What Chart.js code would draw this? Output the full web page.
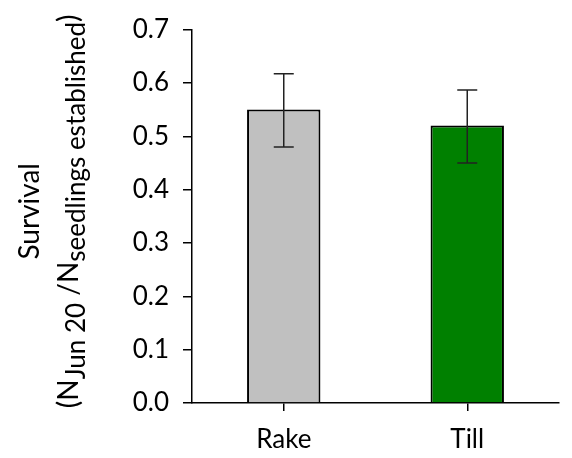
<!DOCTYPE html>
<html>
<head>
<meta charset="utf-8">
<script src="https://cdn.jsdelivr.net/npm/chart.js@4"></script>
<style>
  html, body { margin: 0; padding: 0; background: #fff; }
  #wrap { width: 572px; height: 458px; }
</style>
</head>
<body>
<div id="wrap"><canvas id="c" width="572" height="458"></canvas></div>
<script>
// data
const categories = ['Rake', 'Till'];
const survival = [0.55, 0.52];
const errUpper = [0.617, 0.587];
const errLower = [0.48, 0.45];
const barColors = ['#c0c0c0', '#008000'];
const yTicks = [0, 0.1, 0.2, 0.3, 0.4, 0.5, 0.6, 0.7];

const FONT = 'Lato, "Open Sans", sans-serif';

// error bars drawn via the scales
const errorBars = {
    id: 'errorBars',
    afterDatasetsDraw(chart) {
        const ctx = chart.ctx;
        const x = chart.scales.x, y = chart.scales.y;
        ctx.save();
        ctx.strokeStyle = '#222';
        ctx.lineWidth = 1.5;
        categories.forEach((c, i) => {
            const px = x.getPixelForValue(i);
            const top = y.getPixelForValue(errUpper[i]);
            const bot = y.getPixelForValue(errLower[i]);
            ctx.beginPath();
            ctx.moveTo(px, top); ctx.lineTo(px, bot);
            ctx.moveTo(px - 10, top); ctx.lineTo(px + 10, top);
            ctx.moveTo(px - 10, bot); ctx.lineTo(px + 10, bot);
            ctx.stroke();
        });
        ctx.restore();
    }
};

// y title with subscripts, rotated
const yTitle = {
    id: 'yTitle',
    afterDraw(chart) {
        const ctx = chart.ctx;
        const cy = (chart.chartArea.top + chart.chartArea.bottom) / 2 - 5;
        const big = '28px ' + FONT, small = '26px ' + FONT;
        ctx.save();
        ctx.fillStyle = '#000';
        ctx.textBaseline = 'alphabetic';

        ctx.save();
        ctx.translate(39, cy);
        ctx.rotate(-Math.PI / 2);
        ctx.font = big;
        ctx.textAlign = 'center';
        ctx.fillText('Survival', 0, 0);
        ctx.restore();

        const parts = [
            ['(N', big, 0],
            ['Jun 20', small, 7],
            [' /N', big, 0],
            ['seedlings established', small, 7],
            [')', big, 0]
        ];
        let total = 0;
        parts.forEach(p => { ctx.font = p[1]; total += ctx.measureText(p[0]).width; });
        ctx.save();
        ctx.translate(78, cy);
        ctx.rotate(-Math.PI / 2);
        ctx.textAlign = 'left';
        let xx = -total / 2;
        parts.forEach(p => {
            ctx.font = p[1];
            ctx.fillText(p[0], xx, p[2]);
            xx += ctx.measureText(p[0]).width;
        });
        ctx.restore();
        ctx.restore();
    }
};

new Chart(document.getElementById('c'), {
    type: 'bar',
    data: {
        labels: categories,
        datasets: [{
            data: survival,
            backgroundColor: barColors,
            borderColor: '#000',
            borderWidth: 2,
            categoryPercentage: 1,
            barPercentage: 0.4
        }]
    },
    options: {
        responsive: false,
        animation: false,
        devicePixelRatio: 1,
        layout: { padding: { top: 29, right: 13, left: 0, bottom: 0 } },
        plugins: { legend: { display: false }, tooltip: { enabled: false } },
        scales: {
            x: {
                grid: { display: true, drawOnChartArea: false, drawTicks: true, tickLength: 8, offset: false, color: '#000', lineWidth: 1.5 },
                border: { display: true, color: '#000', width: 1.5 },
                ticks: { color: '#000', font: { family: FONT, size: 26 }, padding: 13 },
                afterFit(s) { s.height = 55; }
            },
            y: {
                min: 0,
                max: 0.7,
                grid: { display: true, drawOnChartArea: false, drawTicks: true, tickLength: 9, color: '#000', lineWidth: 1.5 },
                border: { display: true, color: '#000', width: 1.5 },
                ticks: {
                    color: '#000',
                    font: { family: FONT, size: 26 },
                    padding: 14,
                    stepSize: 0.1,
                    callback: v => Number(v).toFixed(1)
                },
                afterBuildTicks(s) { s.ticks = yTicks.map(v => ({ value: v })); },
                afterFit(s) { s.width = 192; }
            }
        }
    },
    plugins: [errorBars, yTitle]
});
</script>
</body>
</html>
